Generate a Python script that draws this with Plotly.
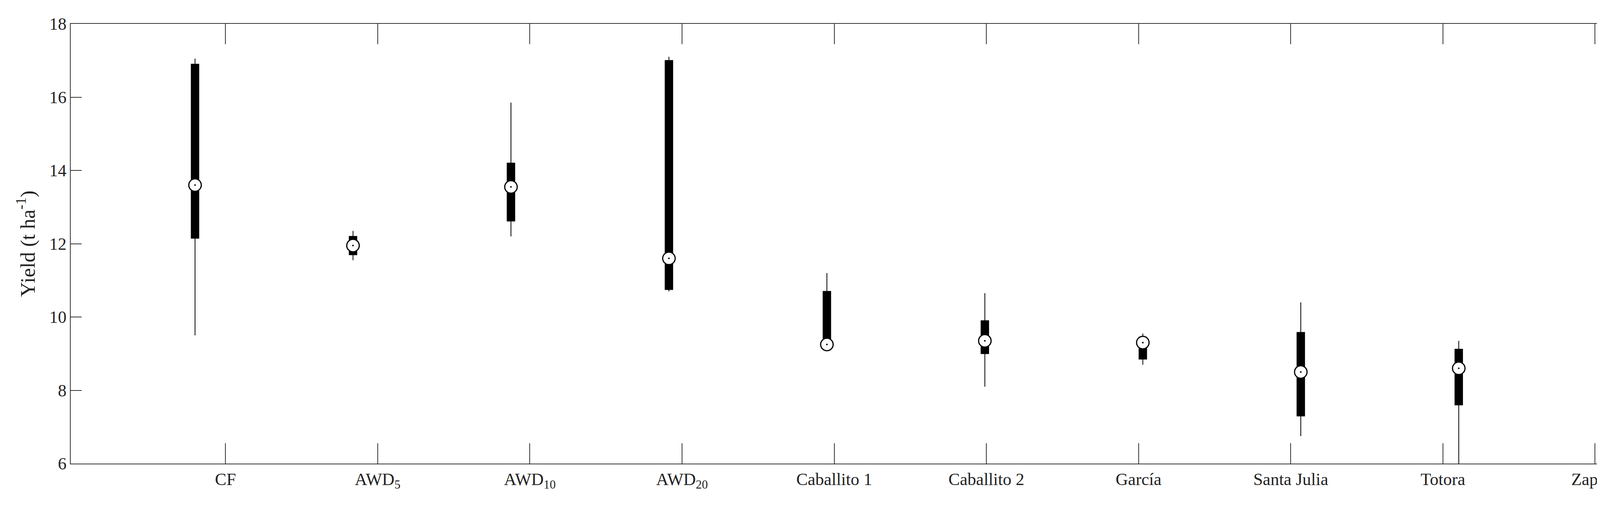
import plotly.graph_objects as go

categories = ["CF", "AWD<sub>5</sub>", "AWD<sub>10</sub>", "AWD<sub>20</sub>", "Caballito 1",
              "Caballito 2", "García", "Santa Julia", "Totora", "Zapote"]
lower_whisker = [9.5, 11.55, 12.2, 10.7, 9.2, 8.1, 8.7, 6.75, 6.0, 8.95]
q1 = [12.15, 11.7, 12.62, 10.75, 9.25, 9.0, 8.85, 7.3, 7.6, 9.05]
median = [13.6, 11.95, 13.55, 11.6, 9.25, 9.35, 9.3, 8.5, 8.6, 10.0]
q3 = [16.9, 12.2, 14.2, 17.0, 10.7, 9.9, 9.45, 9.58, 9.12, 10.55]
upper_whisker = [17.05, 12.35, 15.85, 17.1, 11.2, 10.65, 9.55, 10.4, 9.35, 10.6]

tick_pos = list(range(1, len(categories) + 1))
# boxes sit on a slightly different spacing than the category ticks
box_pos = [0.80 + 1.038 * i for i in range(len(categories))]

fig = go.Figure()
fig.add_trace(go.Box(
    x=box_pos, q1=q1, median=median, q3=q3,
    lowerfence=lower_whisker, upperfence=upper_whisker,
    width=0.05, whiskerwidth=0, fillcolor="black",
    line=dict(color="black", width=2), boxpoints=False, showlegend=False,
))
fig.add_trace(go.Scatter(
    x=box_pos, y=median, mode="markers", showlegend=False,
    marker=dict(symbol="circle-dot", size=32, color="white",
                line=dict(color="black", width=3)),
))

font = dict(family="Liberation Serif, serif", size=44, color="#222")
fig.update_layout(
    width=4355, height=1270, plot_bgcolor="white", paper_bgcolor="white",
    margin=dict(l=173, r=112, t=53, b=92), font=font,
)
fig.update_xaxes(
    range=[-0.017, 10.43], tickvals=tick_pos, ticktext=categories,
    ticks="inside", ticklen=52, tickwidth=2, tickcolor="#333",
    showline=True, linecolor="#333", linewidth=2, mirror="ticks",
    showgrid=False, zeroline=False,
)
fig.update_yaxes(
    range=[6, 18], dtick=2, title=dict(text="Yield (t ha<sup>-1</sup>)", standoff=20),
    ticks="inside", ticklen=28, tickwidth=2, tickcolor="#333",
    showline=True, linecolor="#333", linewidth=2, mirror="ticks",
    showgrid=False, zeroline=False,
)
fig.write_html("out.html")
